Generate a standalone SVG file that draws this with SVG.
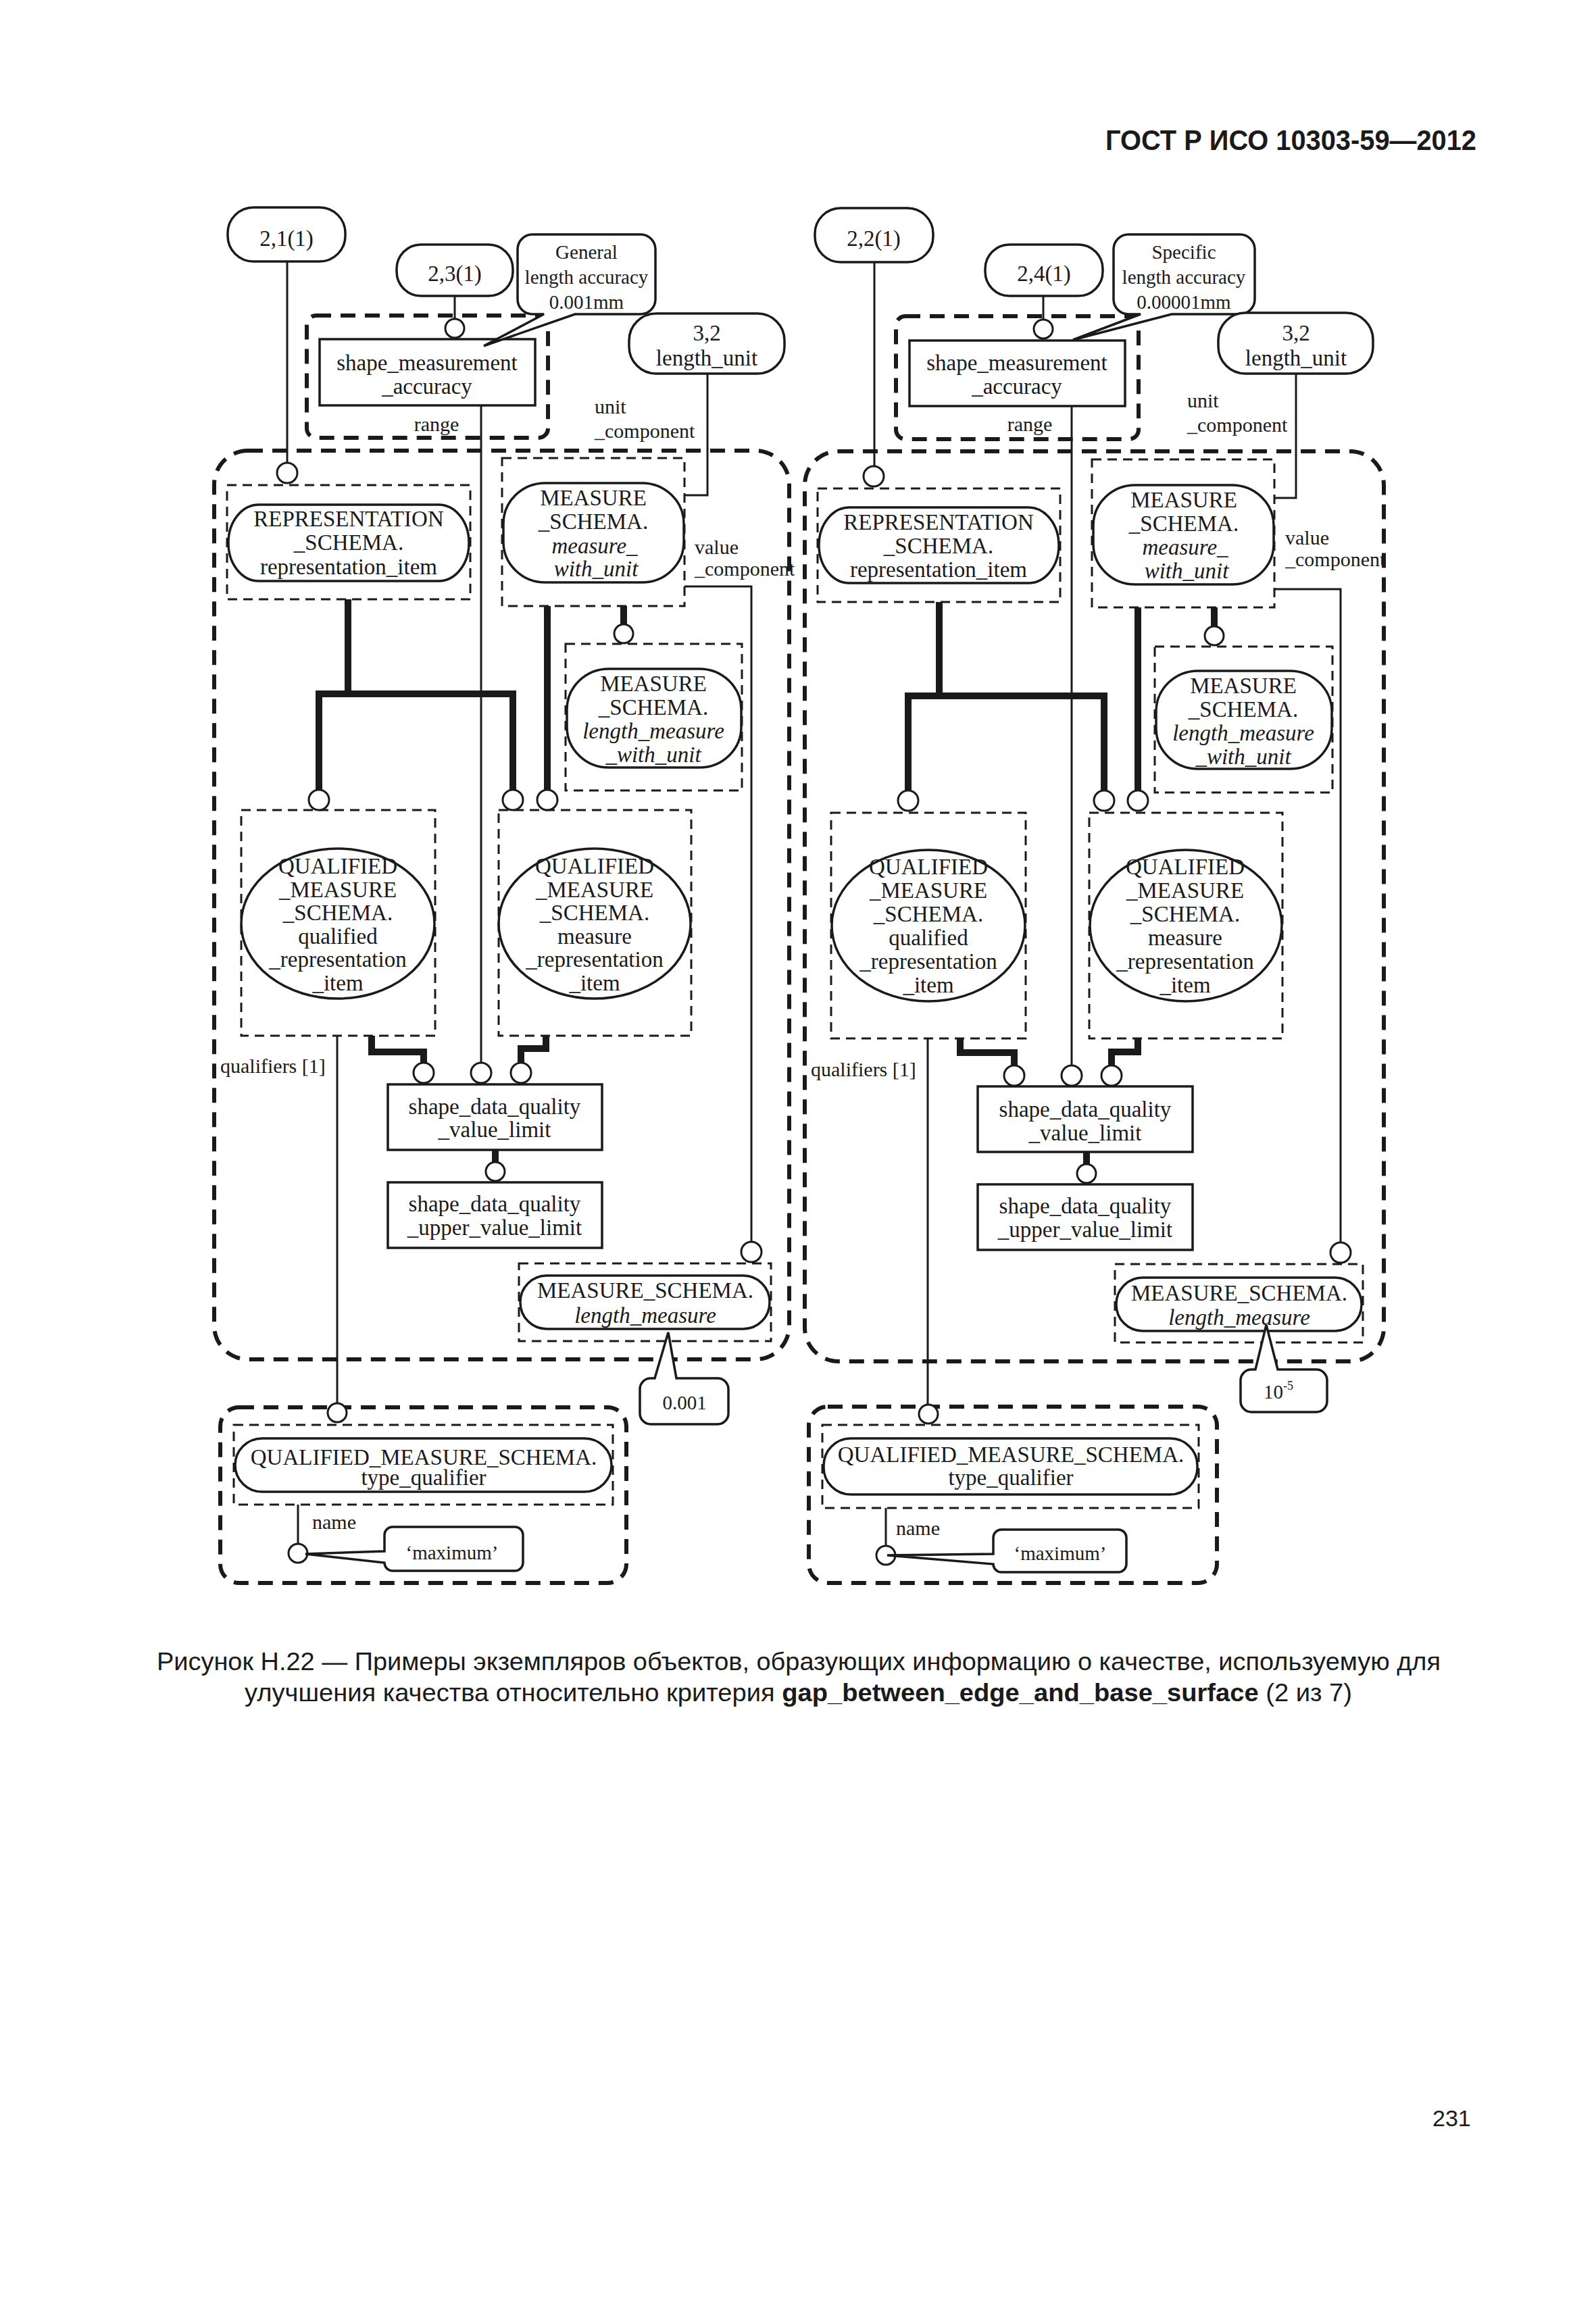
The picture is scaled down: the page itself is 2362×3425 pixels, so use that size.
<svg xmlns="http://www.w3.org/2000/svg" width="2362" height="3425" viewBox="0 0 2362 3425">
<style>
.ln{fill:none;stroke:#1a1a1a;stroke-width:3}
.tk{fill:none;stroke:#1a1a1a;stroke-width:10;stroke-linejoin:miter;stroke-linecap:butt}
.nd{fill:#fff;stroke:#1a1a1a;stroke-width:3.5}
.ci{fill:#fff;stroke:#1a1a1a;stroke-width:3}
.dt{fill:none;stroke:#1a1a1a;stroke-width:3;stroke-dasharray:14 9}
.dk{fill:none;stroke:#1a1a1a;stroke-width:6;stroke-dasharray:22 14}
text{font-family:"Liberation Serif","Times New Roman",serif;fill:#1a1a1a}
.t{font-size:33px;text-anchor:middle}
.it{font-style:italic}
.lb{font-size:30px}
.lc{font-size:30px;text-anchor:middle}
.co{font-size:29px;text-anchor:middle}
text.sans{font-family:"Liberation Sans",Arial,sans-serif}
</style>
<rect width="2362" height="3425" fill="#fff"/>
<text id="header" class="sans" x="1636" y="222" font-size="42" font-weight="bold" textLength="549" lengthAdjust="spacingAndGlyphs">ГОСТ Р ИСО 10303-59—2012</text>

<g id="containers">
<rect class="dk" x="317" y="667" width="851" height="1345" rx="50"/>
<rect class="dk" x="454" y="467" width="357" height="181" rx="14"/>
<rect class="dk" x="326" y="2083" width="601" height="260" rx="28"/>
<rect class="dk" x="1191" y="668" width="857" height="1347" rx="50"/>
<rect class="dk" x="1326" y="468" width="359" height="182" rx="14"/>
<rect class="dk" x="1197" y="2082" width="604" height="261" rx="28"/>
</g>

<!-- LEFT NODES -->
<g id="L_ref21"><rect class="nd" x="337" y="307" width="174" height="80" rx="38"/><text class="t" x="424" y="364">2,1(1)</text></g>
<g id="L_ref23"><rect class="nd" x="587" y="362" width="172" height="76" rx="36"/><text class="t" x="673" y="416">2,3(1)</text></g>
<g id="L_sma"><rect class="nd" x="473" y="502" width="319" height="98"/><text class="t" x="632" y="548">shape_measurement</text><text class="t" x="632" y="583">_accuracy</text></g>
<g id="L_general"><path class="nd" d="M788,347 H948 A22,22 0 0 1 970,369 V443 A22,22 0 0 1 948,465 H851 L716,512 L805,465 H788 A22,22 0 0 1 766,443 V369 A22,22 0 0 1 788,347 Z"/><text class="co" x="868" y="383">General</text><text class="co" x="868" y="420">length accuracy</text><text class="co" x="868" y="457">0.001mm</text></g>
<g id="L_lenunit"><rect class="nd" x="931" y="464" width="230" height="89" rx="40"/><text class="t" x="1046" y="504">3,2</text><text class="t" x="1046" y="541">length_unit</text></g>
<g id="L_rep"><rect class="nd" x="338" y="747" width="356" height="113" rx="45" ry="56"/><rect class="dt" x="336" y="718" width="360" height="169"/><text class="t" x="516" y="779">REPRESENTATION</text><text class="t" x="516" y="814">_SCHEMA.</text><text class="t" x="516" y="850">representation_item</text></g>
<g id="L_mwu"><rect class="nd" x="745" y="715" width="267" height="147" rx="62" ry="60"/><rect class="dt" x="743" y="678" width="270" height="219"/><text class="t" x="878" y="748">MEASURE</text><text class="t" x="878" y="783">_SCHEMA.</text><text class="t it" x="880" y="819">measure_</text><text class="t it" x="882" y="853">with_unit</text></g>
<g id="L_lmwu"><rect class="nd" x="839" y="990" width="258" height="146" rx="62" ry="60"/><rect class="dt" x="837" y="953" width="261" height="217"/><text class="t" x="967" y="1023">MEASURE</text><text class="t" x="967" y="1058">_SCHEMA.</text><text class="t it" x="967" y="1093">length_measure</text><text class="t it" x="967" y="1128">_with_unit</text></g>
<g id="L_qri"><ellipse class="nd" cx="500" cy="1367" rx="143" ry="111"/><rect class="dt" x="357" y="1199" width="287" height="334"/><text class="t" x="500" y="1293">QUALIFIED</text><text class="t" x="500" y="1328">_MEASURE</text><text class="t" x="500" y="1362">_SCHEMA.</text><text class="t" x="500" y="1397">qualified</text><text class="t" x="500" y="1431">_representation</text><text class="t" x="500" y="1466">_item</text></g>
<g id="L_mri"><ellipse class="nd" cx="880" cy="1367" rx="142" ry="111"/><rect class="dt" x="738" y="1199" width="285" height="334"/><text class="t" x="880" y="1293">QUALIFIED</text><text class="t" x="880" y="1328">_MEASURE</text><text class="t" x="880" y="1362">_SCHEMA.</text><text class="t" x="880" y="1397">measure</text><text class="t" x="880" y="1431">_representation</text><text class="t" x="880" y="1466">_item</text></g>
<g id="L_vlimit"><rect class="nd" x="574" y="1605" width="317" height="97"/><text class="t" x="732" y="1649">shape_data_quality</text><text class="t" x="732" y="1683">_value_limit</text></g>
<g id="L_upper"><rect class="nd" x="574" y="1750" width="317" height="97"/><text class="t" x="732" y="1793">shape_data_quality</text><text class="t" x="732" y="1828">_upper_value_limit</text></g>
<g id="L_lm"><rect class="nd" x="770" y="1888" width="369" height="79" rx="39"/><rect class="dt" x="768" y="1870" width="373" height="115"/><text class="t" x="955" y="1921">MEASURE_SCHEMA.</text><text class="t it" x="955" y="1958">length_measure</text></g>
<g id="L_val"><path class="nd" d="M963,2040 H969 L989,1972 L1001,2040 H1062 A16,16 0 0 1 1078,2056 V2092 A16,16 0 0 1 1062,2108 H963 A16,16 0 0 1 947,2092 V2056 A16,16 0 0 1 963,2040 Z"/><text class="co" x="1013" y="2086">0.001</text></g>
<g id="L_tq"><rect class="nd" x="348" y="2129" width="557" height="79" rx="40"/><rect class="dt" x="346" y="2109" width="561" height="118"/><text class="t" x="627" y="2168">QUALIFIED_MEASURE_SCHEMA.</text><text class="t" x="627" y="2198">type_qualifier</text></g>

<!-- RIGHT NODES -->
<g id="R_ref22"><rect class="nd" x="1206" y="308" width="175" height="80" rx="38"/><text class="t" x="1293" y="364">2,2(1)</text></g>
<g id="R_ref24"><rect class="nd" x="1458" y="362" width="174" height="76" rx="36"/><text class="t" x="1545" y="416">2,4(1)</text></g>
<g id="R_sma"><rect class="nd" x="1346" y="504" width="319" height="97"/><text class="t" x="1505" y="548">shape_measurement</text><text class="t" x="1505" y="583">_accuracy</text></g>
<g id="R_specific"><path class="nd" d="M1670,347 H1835 A22,22 0 0 1 1857,369 V443 A22,22 0 0 1 1835,465 H1734 L1588,503 L1688,465 H1670 A22,22 0 0 1 1648,443 V369 A22,22 0 0 1 1670,347 Z"/><text class="co" x="1752" y="383">Specific</text><text class="co" x="1752" y="420">length accuracy</text><text class="co" x="1752" y="457">0.00001mm</text></g>
<g id="R_lenunit"><rect class="nd" x="1803" y="463" width="229" height="90" rx="40"/><text class="t" x="1918" y="504">3,2</text><text class="t" x="1918" y="541">length_unit</text></g>
<g id="R_rep"><rect class="nd" x="1212" y="751" width="355" height="112" rx="45" ry="56"/><rect class="dt" x="1210" y="723" width="359" height="168"/><text class="t" x="1389" y="784">REPRESENTATION</text><text class="t" x="1389" y="819">_SCHEMA.</text><text class="t" x="1389" y="854">representation_item</text></g>
<g id="R_mwu"><rect class="nd" x="1618" y="718" width="267" height="147" rx="62" ry="60"/><rect class="dt" x="1616" y="680" width="270" height="219"/><text class="t" x="1752" y="751">MEASURE</text><text class="t" x="1752" y="786">_SCHEMA.</text><text class="t it" x="1754" y="821">measure_</text><text class="t it" x="1756" y="856">with_unit</text></g>
<g id="R_lmwu"><rect class="nd" x="1711" y="993" width="260" height="145" rx="62" ry="60"/><rect class="dt" x="1709" y="957" width="263" height="216"/><text class="t" x="1840" y="1026">MEASURE</text><text class="t" x="1840" y="1061">_SCHEMA.</text><text class="t it" x="1840" y="1096">length_measure</text><text class="t it" x="1840" y="1131">_with_unit</text></g>
<g id="R_qri"><ellipse class="nd" cx="1374" cy="1370" rx="143" ry="112"/><rect class="dt" x="1230" y="1203" width="288" height="334"/><text class="t" x="1374" y="1294">QUALIFIED</text><text class="t" x="1374" y="1329">_MEASURE</text><text class="t" x="1374" y="1364">_SCHEMA.</text><text class="t" x="1374" y="1399">qualified</text><text class="t" x="1374" y="1434">_representation</text><text class="t" x="1374" y="1469">_item</text></g>
<g id="R_mri"><ellipse class="nd" cx="1755" cy="1370" rx="142" ry="112"/><rect class="dt" x="1612" y="1203" width="286" height="334"/><text class="t" x="1754" y="1294">QUALIFIED</text><text class="t" x="1754" y="1329">_MEASURE</text><text class="t" x="1754" y="1364">_SCHEMA.</text><text class="t" x="1754" y="1399">measure</text><text class="t" x="1754" y="1434">_representation</text><text class="t" x="1754" y="1469">_item</text></g>
<g id="R_vlimit"><rect class="nd" x="1447" y="1608" width="318" height="97"/><text class="t" x="1606" y="1653">shape_data_quality</text><text class="t" x="1606" y="1688">_value_limit</text></g>
<g id="R_upper"><rect class="nd" x="1447" y="1753" width="318" height="97"/><text class="t" x="1606" y="1796">shape_data_quality</text><text class="t" x="1606" y="1831">_upper_value_limit</text></g>
<g id="R_lm"><rect class="nd" x="1652" y="1891" width="363" height="79" rx="39"/><rect class="dt" x="1650" y="1871" width="367" height="116"/><text class="t" x="1834" y="1925">MEASURE_SCHEMA.</text><text class="t it" x="1834" y="1961">length_measure</text></g>
<g id="R_val"><path class="nd" d="M1852,2027 H1858 L1874,1961 L1891,2027 H1948 A16,16 0 0 1 1964,2043 V2074 A16,16 0 0 1 1948,2090 H1852 A16,16 0 0 1 1836,2074 V2043 A16,16 0 0 1 1852,2027 Z"/><text class="co" x="1892" y="2070">10<tspan font-size="18" dy="-13">-5</tspan></text></g>
<g id="R_tq"><rect class="nd" x="1219" y="2129" width="553" height="83" rx="40"/><rect class="dt" x="1217" y="2109" width="557" height="123"/><text class="t" x="1496" y="2164">QUALIFIED_MEASURE_SCHEMA.</text><text class="t" x="1496" y="2198">type_qualifier</text></g>

<g id="connectors">
<g id="L_conn">
<path class="ln" d="M425,387 V686"/>
<path class="ln" d="M673,438 V472"/>
<path class="ln" d="M712,600 V1573"/>
<path class="ln" d="M1047,553 V733 H1013" stroke-width="3.5"/>
<path class="ln" d="M1013,868 H1112 V1838"/>
<path class="tk" d="M515,887 V1027"/>
<path class="tk" d="M472,1170 V1027 H759 V1170"/>
<path class="tk" d="M810,897 V1170"/>
<path class="tk" d="M923,897 V924" stroke-width="8"/>
<path class="ln" d="M499,1533 V2077"/>
<path class="tk" d="M550,1533 V1557 H627 V1574"/>
<path class="tk" d="M808,1533 V1552 H771 V1574"/>
<path class="tk" d="M733,1702 V1720" stroke-width="9"/>
<path class="ln" d="M441,2227 V2285"/>
<circle class="ci" cx="425" cy="700" r="15"/>
<circle class="ci" cx="673" cy="486" r="14"/>
<circle class="ci" cx="712" cy="1588" r="15"/>
<circle class="ci" cx="1112" cy="1853" r="15"/>
<circle class="ci" cx="472" cy="1184" r="15"/>
<circle class="ci" cx="759" cy="1184" r="15"/>
<circle class="ci" cx="810" cy="1184" r="15"/>
<circle class="ci" cx="923" cy="938" r="14"/>
<circle class="ci" cx="499" cy="2091" r="14"/>
<circle class="ci" cx="627" cy="1588" r="15"/>
<circle class="ci" cx="771" cy="1588" r="15"/>
<circle class="ci" cx="733" cy="1734" r="14"/>
<circle class="ci" cx="441" cy="2299" r="14"/>
<text class="lc" x="646" y="638">range</text>
<text class="lb" x="880" y="612">unit</text>
<text class="lb" x="880" y="648">_component</text>
<text class="lb" x="1028" y="820">value</text>
<text class="lb" x="1028" y="852">_component</text>
<text class="lb" x="326" y="1588">qualifiers [1]</text>
<text class="lb" x="462" y="2263">name</text>
</g>
<g id="R_conn">
<path class="ln" d="M1294,388 V690"/>
<path class="ln" d="M1544,438 V473"/>
<path class="ln" d="M1586,601 V1577"/>
<path class="ln" d="M1918,553 V737 H1886" stroke-width="3.5"/>
<path class="ln" d="M1886,872 H1984 V1839"/>
<path class="tk" d="M1390,891 V1030"/>
<path class="tk" d="M1344,1170 V1030 H1634 V1170"/>
<path class="tk" d="M1684,899 V1170"/>
<path class="tk" d="M1797,899 V927" stroke-width="8"/>
<path class="ln" d="M1373,1537 V2078"/>
<path class="tk" d="M1421,1537 V1558 H1501 V1577"/>
<path class="tk" d="M1684,1537 V1557 H1645 V1577"/>
<path class="tk" d="M1608,1705 V1723" stroke-width="9"/>
<path class="ln" d="M1311,2232 V2288"/>
<circle class="ci" cx="1293" cy="705" r="15"/>
<circle class="ci" cx="1544" cy="487" r="14"/>
<circle class="ci" cx="1586" cy="1592" r="15"/>
<circle class="ci" cx="1984" cy="1854" r="15"/>
<circle class="ci" cx="1344" cy="1185" r="15"/>
<circle class="ci" cx="1634" cy="1185" r="15"/>
<circle class="ci" cx="1684" cy="1185" r="15"/>
<circle class="ci" cx="1797" cy="941" r="14"/>
<circle class="ci" cx="1374" cy="2093" r="14"/>
<circle class="ci" cx="1501" cy="1592" r="15"/>
<circle class="ci" cx="1645" cy="1592" r="15"/>
<circle class="ci" cx="1608" cy="1737" r="14"/>
<circle class="ci" cx="1311" cy="2302" r="14"/>
<text class="lc" x="1524" y="638">range</text>
<text class="lb" x="1757" y="603">unit</text>
<text class="lb" x="1757" y="639">_component</text>
<text class="lb" x="1902" y="806">value</text>
<text class="lb" x="1902" y="838">_component</text>
<text class="lb" x="1200" y="1593">qualifiers [1]</text>
<text class="lb" x="1326" y="2272">name</text>
</g>
</g>

<g id="L_max"><path class="nd" d="M581,2260 H762 A12,12 0 0 1 774,2272 V2313 A12,12 0 0 1 762,2325 H581 A12,12 0 0 1 569,2313 L452,2300 L569,2296 V2272 A12,12 0 0 1 581,2260 Z"/><text class="co" x="669" y="2308">‘maximum’</text></g>
<g id="R_max"><path class="nd" d="M1482,2264 H1655 A12,12 0 0 1 1667,2276 V2315 A12,12 0 0 1 1655,2327 H1482 A12,12 0 0 1 1470,2315 L1313,2302 L1470,2300 V2276 A12,12 0 0 1 1482,2264 Z"/><text class="co" x="1569" y="2309">‘maximum’</text></g>

<g id="caption">
<text class="sans" x="232" y="2472" font-size="37" textLength="1900" lengthAdjust="spacingAndGlyphs">Рисунок Н.22 — Примеры экземпляров объектов, образующих информацию о качестве, используемую для</text>
<text class="sans" x="362" y="2518" font-size="37" textLength="1639" lengthAdjust="spacingAndGlyphs">улучшения качества относительно критерия <tspan font-weight="bold">gap_between_edge_and_base_surface</tspan> (2 из 7)</text>
</g>
<text id="page" class="sans" x="2120" y="3147" font-size="34">231</text>
</svg>
